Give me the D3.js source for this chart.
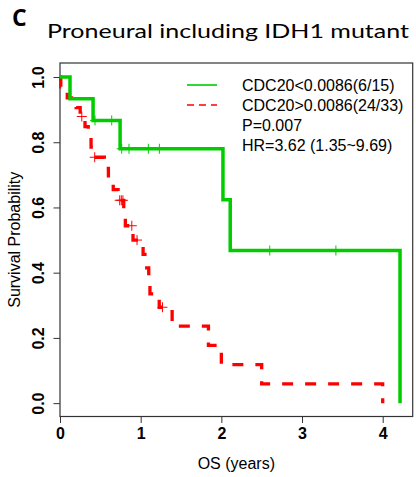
<!DOCTYPE html>
<html>
<head>
<meta charset="utf-8">
<script src="https://cdn.jsdelivr.net/npm/d3@7"></script>
<style>
  body { margin: 0; background: #fff; }
  svg { display: block; }
  .tick text { font-family: "Liberation Sans", Arial, sans-serif; font-weight: bold; font-size: 16px; fill: #000; }
  .lab { font-family: "Liberation Sans", Arial, sans-serif; font-size: 16px; fill: #000; }
</style>
</head>
<body>
<div id="chart"></div>
<script>
// green group: CDC20 low
const lowTime = [0, 0.124, 0.41, 0.745, 2.02, 2.11, 4.215];
const lowSurv = [1, 0.933, 0.867, 0.78, 0.624, 0.468, 0];
const lowCensor = [0.434, 0.641, 0.765, 0.855, 1.095, 1.232, 2.60, 3.42];

// red group: CDC20 high
const highTime = [0, 0.01, 0.09, 0.20, 0.25, 0.31, 0.35, 0.385, 0.42, 0.55, 0.60, 0.66, 0.72,
  0.79, 0.81, 0.905, 1.03, 1.075, 1.10, 1.115, 1.23, 1.39, 1.84, 2.00, 2.50, 4.00];
const highSurv = [1, 0.970, 0.936, 0.906, 0.879, 0.848, 0.816, 0.785, 0.754, 0.720, 0.688, 0.655, 0.622,
  0.583, 0.544, 0.500, 0.456, 0.415, 0.375, 0.335, 0.294, 0.236, 0.177, 0.118, 0.059, 0];
const highCensor = [0.27, 0.43, 0.74, 0.76, 0.78, 0.89, 0.955, 1.27];

const xTicks = [0, 1, 2, 3, 4];
const yTicks = [0, 0.2, 0.4, 0.6, 0.8, 1.0];
const legendLabels = ["CDC20<0.0086(6/15)", "CDC20>0.0086(24/33)", "P=0.007", "HR=3.62 (1.35~9.69)"];

const width = 416, height = 477;
const box = { l: 60, r: 412.7, t: 63, b: 416.5 };

const svg = d3.select("#chart").append("svg")
  .attr("width", width)
  .attr("height", height);

const x = d3.scaleLinear().domain([0, 4.372]).range([box.l, box.r]);
const y = d3.scaleLinear().domain([-0.041, 1.043]).range([box.b, box.t]);

// survival value just at a given time
function survAt(times, surv, t) {
  let s = surv[0];
  for (let i = 0; i < times.length; i++) if (times[i] <= t) s = surv[i];
  return s;
}

// axes
svg.append("g")
  .attr("transform", "translate(0," + box.b + ")")
  .call(d3.axisBottom(x).tickValues(xTicks).tickSize(6.5).tickPadding(5).tickFormat(d3.format("d")))
  .call(g => g.select(".domain").remove())
  .call(g => g.selectAll("line").attr("stroke", "#333"));

const ya = svg.append("g")
  .attr("transform", "translate(" + box.l + ",0)")
  .call(d3.axisLeft(y).tickValues(yTicks).tickSize(6.5).tickFormat(d3.format(".1f")))
  .call(g => g.select(".domain").remove())
  .call(g => g.selectAll("line").attr("stroke", "#333"));
ya.selectAll(".tick text")
  .attr("x", null).attr("dy", null)
  .attr("text-anchor", "middle")
  .attr("transform", "translate(-16,0) rotate(-90)");

// box
svg.append("rect")
  .attr("x", box.l).attr("y", box.t)
  .attr("width", box.r - box.l).attr("height", box.b - box.t)
  .attr("fill", "none").attr("stroke", "#333").attr("stroke-width", 1.2);

// curves
const line = d3.line().curve(d3.curveStepAfter);
const lowPts = lowTime.map((t, i) => [x(t), y(lowSurv[i])]);
const highPts = highTime.map((t, i) => [x(t), y(highSurv[i])]);

svg.append("path").attr("d", line(highPts))
  .attr("fill", "none").attr("stroke", "#ff0000").attr("stroke-width", 3.3)
  .attr("stroke-dasharray", "11 12");
svg.append("path").attr("d", line(lowPts))
  .attr("fill", "none").attr("stroke", "#00cc00").attr("stroke-width", 3.5);

// censor marks
function marks(cens, times, surv, col) {
  const g = svg.append("g").attr("stroke", col).attr("stroke-width", 1);
  cens.forEach(t => {
    const cx = x(t), cy = y(survAt(times, surv, t));
    g.append("line").attr("x1", cx - 5).attr("x2", cx + 5).attr("y1", cy).attr("y2", cy);
    g.append("line").attr("x1", cx).attr("x2", cx).attr("y1", cy - 5).attr("y2", cy + 5);
  });
}
marks(lowCensor, lowTime, lowSurv, "#00cc00");
marks(highCensor, highTime, highSurv, "#ff0000");

// legend
const lg = svg.append("g");
lg.append("line").attr("x1", 187).attr("x2", 217).attr("y1", 85).attr("y2", 85)
  .attr("stroke", "#00cc00").attr("stroke-width", 1.6);
lg.append("line").attr("x1", 187).attr("x2", 217).attr("y1", 105).attr("y2", 105)
  .attr("stroke", "#ff0000").attr("stroke-width", 1.6).attr("stroke-dasharray", "7 5");
lg.selectAll("text").data(legendLabels).enter().append("text")
  .attr("class", "lab")
  .attr("x", 242)
  .attr("y", (d, i) => 91 + i * 20)
  .text(d => d);

// axis titles
svg.append("text").attr("class", "lab")
  .attr("x", (box.l + box.r) / 2).attr("y", 469)
  .attr("text-anchor", "middle")
  .text("OS (years)");
svg.append("text").attr("class", "lab")
  .attr("transform", "translate(20," + (box.t + box.b) / 2 + ") rotate(-90)")
  .attr("text-anchor", "middle")
  .text("Survival Probability");

// panel letter and title
svg.append("text")
  .attr("x", 12).attr("y", 26)
  .style("font-family", "'Open Sans', sans-serif").style("font-weight", "bold").style("font-size", "23px")
  .text("C");
svg.append("text")
  .attr("x", 47).attr("y", 37.5)
  .attr("textLength", 362).attr("lengthAdjust", "spacingAndGlyphs")
  .style("font-family", "Lato, sans-serif").style("font-size", "18.5px")
  .text("Proneural including IDH1 mutant");
</script>
</body>
</html>
